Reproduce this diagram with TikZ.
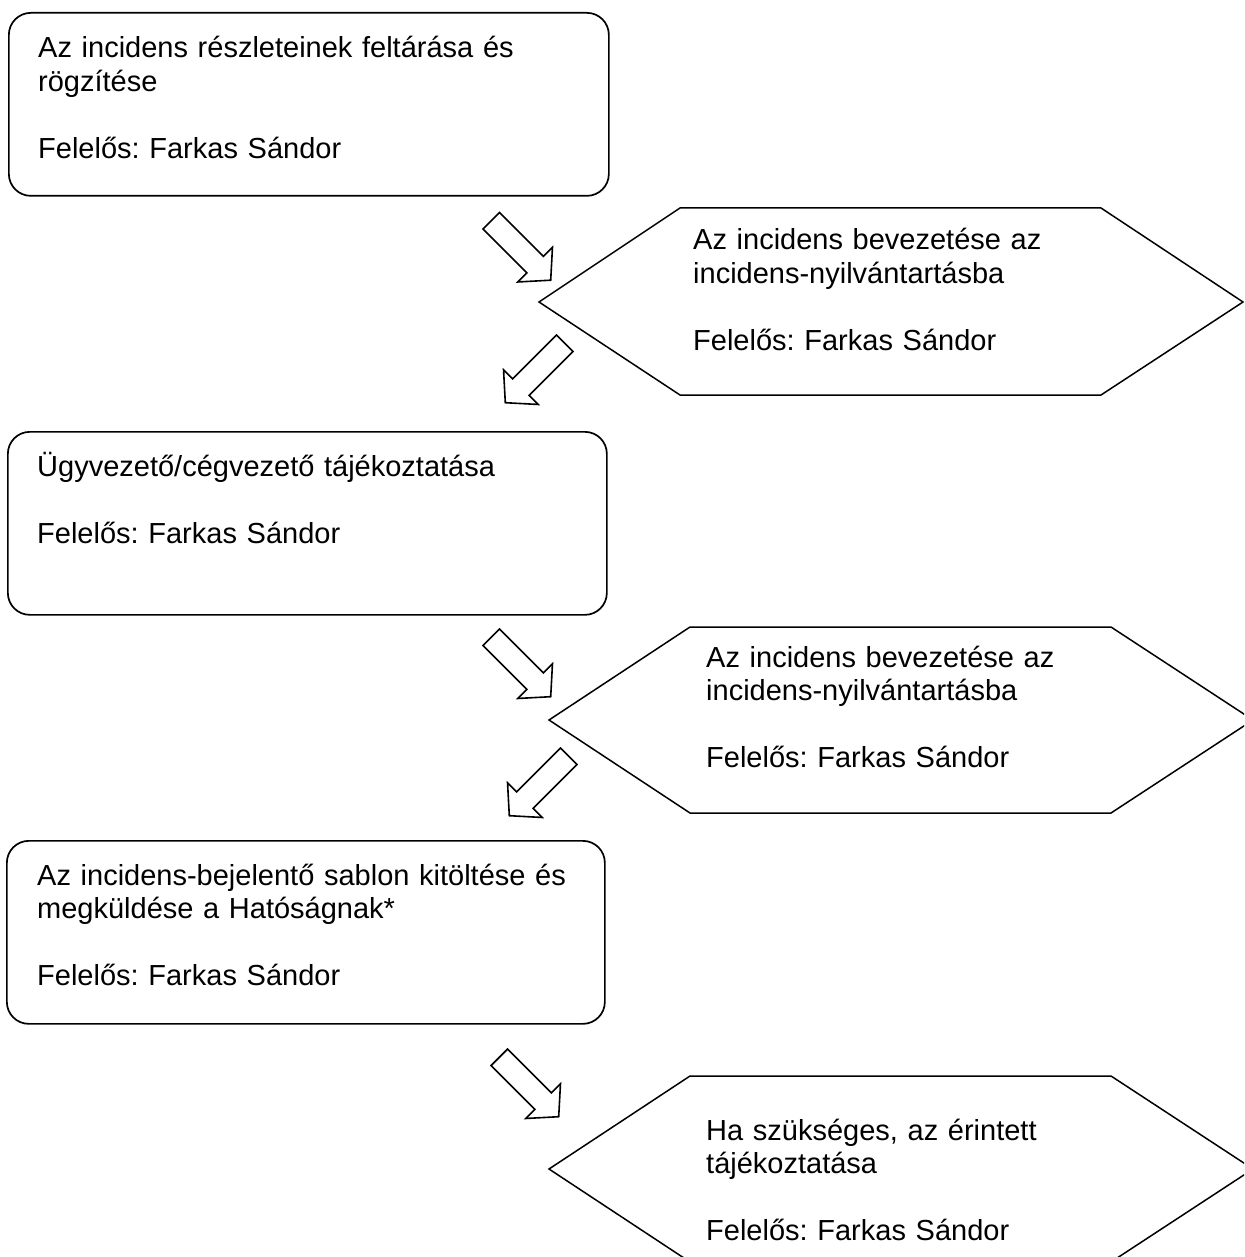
\documentclass[tikz,border=0pt]{standalone}
\usepackage{fontspec}
\setmainfont{Liberation Sans}
\frenchspacing
\begin{document}
\begin{tikzpicture}[x=1pt,y=-1pt,
  box/.style={draw, line width=1.7pt, rounded corners=22pt, anchor=north west, inner sep=0pt},
  hexline/.style={draw, line width=1.5pt, line join=miter},
  txt/.style={anchor=base west, align=left, inner sep=0pt, text width=570pt, font=\fontsize{29}{33.5}\selectfont\frenchspacing},
  arrowline/.style={draw, line width=1.6pt, line join=miter},
  blockarrow/.pic={\path[arrowline] (-42,-11.7) -- (20,-11.7) -- (20,-24.5) -- (42,0) -- (20,24.5) -- (20,11.7) -- (-42,11.7) -- cycle;}
]
\useasboundingbox (0,0) rectangle (1244,1257);
\begin{scope}
\clip (0,0) rectangle (1244,1257);
% rounded boxes
\node[box, minimum width=600pt, minimum height=183pt] (b1) at (8,12) {};
\node[box, minimum width=599pt, minimum height=183pt] (b2) at (7,431) {};
\node[box, minimum width=598pt, minimum height=183pt] (b3) at (6,840) {};
% hexagons
\draw[hexline] (539,302) -- (680,208) -- (1101,208) -- (1243,302) -- (1101,395) -- (680,395) -- cycle;
\draw[hexline] (549,720) -- (690,627) -- (1111,627) -- (1253,720) -- (1111,813) -- (690,813) -- cycle;
\draw[hexline] (549,1169) -- (690,1076) -- (1111,1076) -- (1253,1169) -- (1111,1262) -- (690,1262) -- cycle;
% texts
\node[txt] (t1) at (38,58) {Az incidens részleteinek feltárása és\\rögzítése\\[33.5pt]Felelős: Farkas Sándor};
\node[txt] (t2) at (37,476) {Ügyvezető/cégvezető tájékoztatása\\[33.5pt]Felelős: Farkas Sándor};
\node[txt] (t3) at (37,885) {Az incidens-bejelentő sablon kitöltése és\\megküldése a Hatóságnak*\\[33.5pt]Felelős: Farkas Sándor};
\node[txt] (t4) at (693,250) {Az incidens bevezetése az\\incidens-nyilvántartásba\\[33.5pt]Felelős: Farkas Sándor};
\node[txt] (t5) at (706,667) {Az incidens bevezetése az\\incidens-nyilvántartásba\\[33.5pt]Felelős: Farkas Sándor};
\node[txt] (t6) at (706,1140) {Ha szükséges, az érintett\\tájékoztatása\\[33.5pt]Felelős: Farkas Sándor};
% block arrows
\pic[rotate=-45] (a1) at (521,250.5) {blockarrow};
\pic[rotate=-135] (a2) at (535,373) {blockarrow};
\pic[rotate=-45] (a3) at (521,667) {blockarrow};
\pic[rotate=-135] (a4) at (539,786) {blockarrow};
\pic[rotate=-45] (a5) at (529,1087) {blockarrow};
\end{scope}
\end{tikzpicture}
\end{document}
